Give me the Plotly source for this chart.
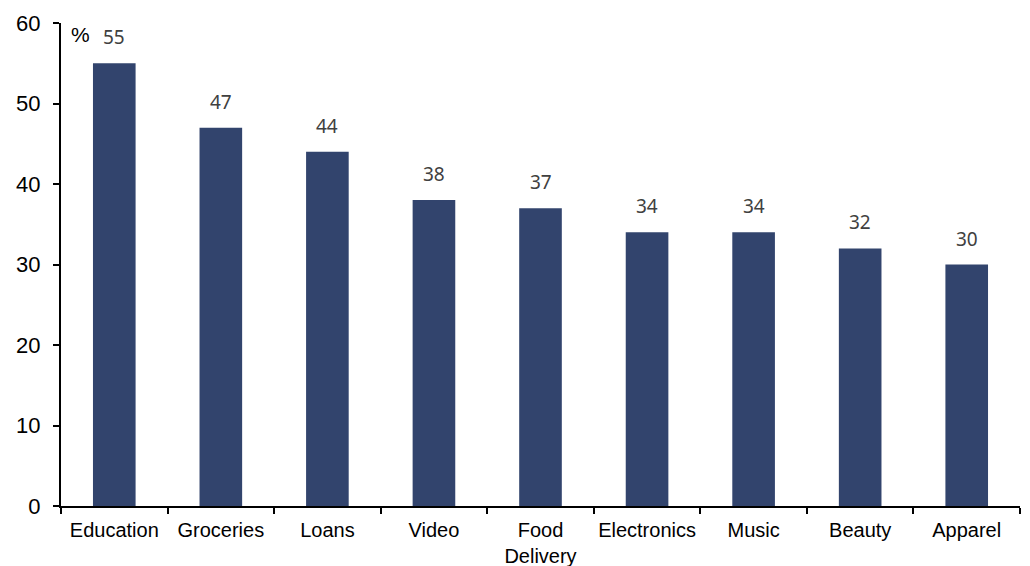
import plotly.graph_objects as go

categories = ["Education", "Groceries", "Loans", "Video", "Food<br>Delivery",
              "Electronics", "Music", "Beauty", "Apparel"]
values = [55, 47, 44, 38, 37, 34, 34, 32, 30]
y_ticks = [0, 10, 20, 30, 40, 50, 60]

bar_color = "#32446D"

fig = go.Figure()
fig.add_trace(go.Bar(
    x=categories, y=values, marker=dict(color=bar_color, line=dict(width=0)),
    width=0.4, showlegend=False, hoverinfo="x+y",
))

for c, v in zip(categories, values):
    fig.add_annotation(x=c, y=v, text=str(v), showarrow=False,
                       yanchor="bottom", yshift=11,
                       font=dict(family="Noto Sans", size=19, color="#404040"))

fig.add_annotation(x=0.008, y=1.004, xref="paper", yref="paper", text="%",
                   showarrow=False, xanchor="left", yanchor="top",
                   font=dict(family="Liberation Sans", size=21, color="#000000"))

fig.update_layout(
    width=1030, height=566,
    margin=dict(l=61, r=10, t=23, b=60),
    plot_bgcolor="white", paper_bgcolor="white",
    bargap=0.6,
    font=dict(family="Liberation Sans, Arial", size=19, color="#000000"),
)
fig.update_xaxes(
    showline=True, linecolor="#000000", linewidth=2,
    ticks="outside", tickson="boundaries", ticklen=6, tickwidth=2, tickcolor="#000000",
    showgrid=False, zeroline=False, ticklabelstandoff=5, tickangle=0, automargin=False,
    tickfont=dict(family="Liberation Sans, Arial", size=20, color="#000000"),
)
fig.update_yaxes(
    range=[0, 60], tickvals=y_ticks,
    showline=True, linecolor="#000000", linewidth=2,
    ticks="outside", ticklen=6, tickwidth=2, tickcolor="#000000",
    showgrid=False, zeroline=False, ticklabelstandoff=8, automargin=False,
    tickfont=dict(family="Liberation Sans, Arial", size=22, color="#000000"),
)

fig.write_html("out.html")
